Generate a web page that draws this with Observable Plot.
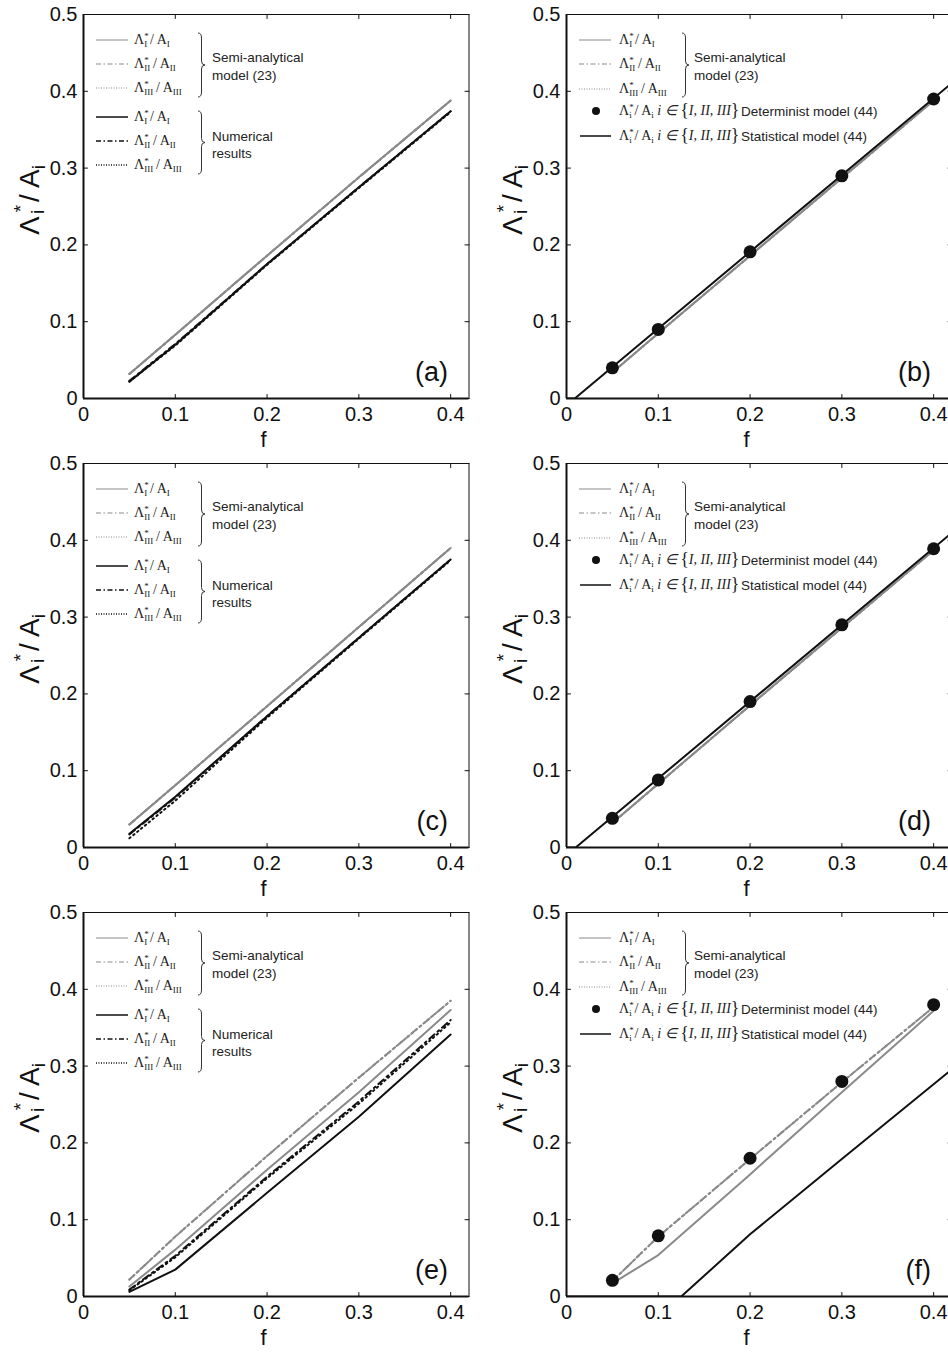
<!DOCTYPE html>
<html><head><meta charset="utf-8">
<script src="https://cdn.jsdelivr.net/npm/d3@7"></script>
<script src="https://cdn.jsdelivr.net/npm/@observablehq/plot@0.6"></script>
<style>
body{margin:0;background:#fff;}
#wrap{position:relative;width:948px;height:1353px;overflow:hidden;background:#fff;}
#wrap svg{position:absolute;}
</style></head><body><div id="wrap"></div>
<script>
// ---------- data ----------
const fValues = [0.05, 0.1, 0.2, 0.3, 0.4];
const xTicks = [0, 0.1, 0.2, 0.3, 0.4];
const yTicks = [0, 0.1, 0.2, 0.3, 0.4, 0.5];
const panelLetters = ["(a)", "(b)", "(c)", "(d)", "(e)", "(f)"];
const subLabels = ["I", "II", "III"];

// (a)
const aSemiI   = [0.032, 0.083, 0.186, 0.288, 0.388];
const aSemiII  = [0.032, 0.083, 0.186, 0.288, 0.388];
const aSemiIII = [0.032, 0.083, 0.186, 0.288, 0.388];
const aNumI    = [0.022, 0.070, 0.175, 0.275, 0.374];
const aNumII   = [0.023, 0.071, 0.175, 0.275, 0.374];
const aNumIII  = [0.022, 0.069, 0.174, 0.274, 0.373];
// (b)
const bSemi    = [0.034, 0.085, 0.186, 0.287, 0.388];
const bDet     = [0.040, 0.090, 0.191, 0.290, 0.390];
const bStatF   = [0, 0.009, 0.42];
const bStatV   = [0, 0, 0.411];
// (c)
const cSemiI   = [0.030, 0.081, 0.184, 0.287, 0.390];
const cSemiII  = [0.030, 0.081, 0.184, 0.287, 0.390];
const cSemiIII = [0.030, 0.081, 0.184, 0.287, 0.390];
const cNumI    = [0.018, 0.066, 0.171, 0.273, 0.375];
const cNumII   = [0.017, 0.065, 0.171, 0.273, 0.375];
const cNumIII  = [0.012, 0.061, 0.169, 0.272, 0.374];
// (d)
const dSemi    = [0.032, 0.083, 0.185, 0.286, 0.387];
const dDet     = [0.038, 0.088, 0.190, 0.290, 0.389];
const dStatF   = [0, 0.010, 0.42];
const dStatV   = [0, 0, 0.410];
// (e)
const eSemiI   = [0.013, 0.061, 0.165, 0.266, 0.373];
const eSemiII  = [0.022, 0.078, 0.183, 0.285, 0.385];
const eSemiIII = [0.022, 0.078, 0.183, 0.285, 0.385];
const eNumI    = [0.006, 0.035, 0.135, 0.234, 0.341];
const eNumII   = [0.009, 0.053, 0.156, 0.254, 0.360];
const eNumIII  = [0.008, 0.051, 0.154, 0.251, 0.357];
// (f)
const fSemiI   = [0.017, 0.054, 0.159, 0.266, 0.372];
const fSemiII  = [0.020, 0.078, 0.179, 0.279, 0.377];
const fSemiIII = [0.020, 0.078, 0.179, 0.279, 0.377];
const fDet     = [0.021, 0.079, 0.180, 0.280, 0.380];
const fStatF   = [0, 0.125, 0.2, 0.3, 0.42];
const fStatV   = [0, 0, 0.081, 0.179, 0.296];

// ---------- styles ----------
const GRAY = "#8a8a8a", BLACK = "#111";
const DASHDOT = "7,4,2,4", DOT = "1.5,3.5";
const lineStyle = {
  semiI:   {stroke: GRAY,  dash: null},
  semiII:  {stroke: GRAY,  dash: DASHDOT},
  semiIII: {stroke: GRAY,  dash: DOT},
  numI:    {stroke: BLACK, dash: null},
  numII:   {stroke: BLACK, dash: DASHDOT},
  numIII:  {stroke: BLACK, dash: DOT},
  stat:    {stroke: BLACK, dash: null}
};
const rows = (fs, vs) => fs.map((f, i) => ({f, v: vs[i]}));

const panels = [
  {col: 0, row: 0, kind: "num", lines: [
    ["semiI", fValues, aSemiI], ["semiII", fValues, aSemiII], ["semiIII", fValues, aSemiIII],
    ["numI", fValues, aNumI], ["numII", fValues, aNumII], ["numIII", fValues, aNumIII]]},
  {col: 1, row: 0, kind: "stat", lines: [
    ["semiI", fValues, bSemi], ["semiII", fValues, bSemi], ["semiIII", fValues, bSemi],
    ["stat", bStatF, bStatV]], dots: bDet},
  {col: 0, row: 1, kind: "num", lines: [
    ["semiI", fValues, cSemiI], ["semiII", fValues, cSemiII], ["semiIII", fValues, cSemiIII],
    ["numI", fValues, cNumI], ["numII", fValues, cNumII], ["numIII", fValues, cNumIII]]},
  {col: 1, row: 1, kind: "stat", lines: [
    ["semiI", fValues, dSemi], ["semiII", fValues, dSemi], ["semiIII", fValues, dSemi],
    ["stat", dStatF, dStatV]], dots: dDet},
  {col: 0, row: 2, kind: "num", lines: [
    ["semiI", fValues, eSemiI], ["semiII", fValues, eSemiII], ["semiIII", fValues, eSemiIII],
    ["numI", fValues, eNumI], ["numII", fValues, eNumII], ["numIII", fValues, eNumIII]]},
  {col: 1, row: 2, kind: "stat", lines: [
    ["semiI", fValues, fSemiI], ["semiII", fValues, fSemiII], ["semiIII", fValues, fSemiIII],
    ["stat", fStatF, fStatV]], dots: fDet}
];

const fmt = d => d === 0 ? "0" : String(d);
const SANS = "'Liberation Sans', Arial, Helvetica, sans-serif";
const SERIF = "'Liberation Serif', 'Times New Roman', serif";
const wrap = document.getElementById("wrap");
const tickShape = {draw(context, l) { context.moveTo(0, 0); context.lineTo(0, -l); }};
const X_MAX = 0.42, Y_MAX = 0.5;

function mathText(g, x, y, sub) {
  const t = g.append("text").attr("x", x).attr("y", y).attr("text-anchor", "start")
    .attr("font-family", SERIF).attr("font-size", 14).attr("fill", "#222");
  t.append("tspan").text("Λ");
  t.append("tspan").attr("font-size", 9).attr("dy", -5).text("*");
  t.append("tspan").attr("font-size", 9).attr("dx", -4.5).attr("dy", 8).text(sub);
  t.append("tspan").attr("dy", -3).text("\u2009/\u2009A");
  t.append("tspan").attr("font-size", 9).attr("dy", 3).text(sub);
  return t;
}
function brace(g, x, y0, y1) {
  const m = (y0 + y1) / 2, w = 3.5;
  g.append("path").attr("fill", "none").attr("stroke", "#333").attr("stroke-width", 1)
    .attr("d", `M${x},${y0} Q${x+w},${y0} ${x+w},${y0+5} L${x+w},${m-4} Q${x+w},${m} ${x+2*w},${m} Q${x+w},${m} ${x+w},${m+4} L${x+w},${y1-5} Q${x+w},${y1} ${x},${y1}`);
}
function sample(g, y, st, w) {
  g.append("line").attr("x1", 96).attr("x2", 128).attr("y1", y).attr("y2", y)
    .attr("stroke", st.stroke).attr("stroke-width", w)
    .attr("stroke-dasharray", st.dash ? (st.dash === DOT ? "1,1.5" : "5,2.5,1.5,2.5") : null);
}
function sansText(g, x, y, s) {
  g.append("text").attr("x", x).attr("y", y).attr("text-anchor", "start").attr("font-family", SANS)
    .attr("font-size", 13.5).attr("fill", "#222").text(s);
}

panels.forEach((p, idx) => {
  const marks = [
    Plot.frame({stroke: BLACK, strokeWidth: 1}),
    Plot.ruleX([0], {stroke: BLACK, strokeWidth: 2}),
    Plot.ruleY([0], {stroke: BLACK, strokeWidth: 1.8}),
    Plot.axisX({ticks: xTicks, tickSize: 0, tickPadding: 8, tickFormat: fmt, label: null}),
    Plot.axisY({ticks: yTicks, tickSize: 0, tickPadding: 6, tickFormat: fmt, label: null}),
    // inward MATLAB-style tick marks on all four sides
    Plot.vector(xTicks, {x: d => d, y: 0, length: 4, rotate: 0, anchor: "start", shape: tickShape, stroke: BLACK, strokeWidth: 1}),
    Plot.vector(xTicks, {x: d => d, y: Y_MAX, length: 4, rotate: 180, anchor: "start", shape: tickShape, stroke: BLACK, strokeWidth: 1}),
    Plot.vector(yTicks, {x: 0, y: d => d, length: 4, rotate: 90, anchor: "start", shape: tickShape, stroke: BLACK, strokeWidth: 1}),
    Plot.vector(yTicks, {x: X_MAX, y: d => d, length: 4, rotate: -90, anchor: "start", shape: tickShape, stroke: BLACK, strokeWidth: 1}),
    ...p.lines.map(([k, fs, vs]) => Plot.line(rows(fs, vs), {
      x: "f", y: "v", stroke: lineStyle[k].stroke, strokeWidth: 2,
      strokeDasharray: lineStyle[k].dash, clip: true}))
  ];
  if (p.dots) marks.push(Plot.dot(rows(fValues, p.dots), {x: "f", y: "v", r: 6.5, fill: BLACK, stroke: "none"}));

  const plot = Plot.plot({
    width: 480, height: 449,
    marginLeft: 83, marginRight: 11.5, marginTop: 14, marginBottom: 51,
    x: {domain: [0, X_MAX]},
    y: {domain: [0, Y_MAX]},
    style: {fontFamily: SANS, fontSize: "20px", color: BLACK, background: "transparent", overflow: "visible"},
    marks
  });
  plot.style.left = (p.col === 0 ? 0 : 483) + "px";
  plot.style.top = (p.row * 449) + "px";
  wrap.appendChild(plot);

  const svg = d3.select(plot);
  const xs = plot.scale("x");
  // y label
  const yl = svg.append("text").attr("transform", "translate(39,200) rotate(-90)")
    .attr("text-anchor", "middle").attr("font-family", SANS).attr("font-size", 28).attr("fill", BLACK);
  yl.append("tspan").text("Λ");
  yl.append("tspan").attr("font-size", 19).attr("dx", 4).attr("dy", -12).text("*");
  yl.append("tspan").attr("font-size", 19).attr("dx", -9).attr("dy", 17).text("i");
  yl.append("tspan").attr("dy", -5).text(" / A");
  yl.append("tspan").attr("font-size", 19).attr("dy", 6).text("i");
  // x label
  svg.append("text").attr("x", xs.apply(0.2) - 3).attr("y", 447).attr("text-anchor", "middle")
    .attr("font-family", SANS).attr("font-size", 22).attr("fill", BLACK).text("f");
  // panel letter
  svg.append("text").attr("x", 448).attr("y", 381).attr("text-anchor", "end")
    .attr("font-family", SANS).attr("font-size", 27).attr("fill", BLACK).text(panelLetters[idx]);

  // legend
  const g = svg.append("g").attr("text-anchor", "start");
  if (p.kind === "num") {
    const ys = [40, 64, 88, 117, 141, 165];
    const keys = ["semiI", "semiII", "semiIII", "numI", "numII", "numIII"];
    keys.forEach((k, i) => {
      sample(g, ys[i], lineStyle[k], i < 3 ? 1 : 1.5);
      mathText(g, 134, ys[i] + 4, subLabels[i % 3]);
    });
    brace(g, 198, 33, 97);
    brace(g, 198, 111, 174);
    sansText(g, 212, 62, "Semi-analytical");
    sansText(g, 212, 80, "model (23)");
    sansText(g, 212, 141, "Numerical");
    sansText(g, 212, 158, "results");
  } else {
    const ys = [40, 64, 89];
    ["semiI", "semiII", "semiIII"].forEach((k, i) => {
      sample(g, ys[i], lineStyle[k], 1);
      mathText(g, 136, ys[i] + 4, subLabels[i]);
    });
    brace(g, 199, 33, 97);
    sansText(g, 211, 62, "Semi-analytical");
    sansText(g, 211, 80, "model (23)");
    g.append("circle").attr("cx", 113).attr("cy", 111).attr("r", 4).attr("fill", BLACK);
    g.append("line").attr("x1", 97).attr("x2", 128).attr("y1", 136).attr("y2", 136)
      .attr("stroke", BLACK).attr("stroke-width", 1.5);
    [[111, "Determinist model (44)"], [136, "Statistical model (44)"]].forEach(([yy, label]) => {
      const t = mathText(g, 136, yy + 4, "i");
      t.append("tspan").attr("dy", -3).attr("font-style", "italic").text(" i ∈ ");
      t.append("tspan").attr("font-size", 18).attr("dy", 1).text("{");
      t.append("tspan").attr("font-style", "italic").attr("dy", -1).text("I, II, III");
      t.append("tspan").attr("font-size", 18).attr("dy", 1).text("}");
      sansText(g, 258, yy + 5, label);
    });
  }
});
</script>
</body></html>
